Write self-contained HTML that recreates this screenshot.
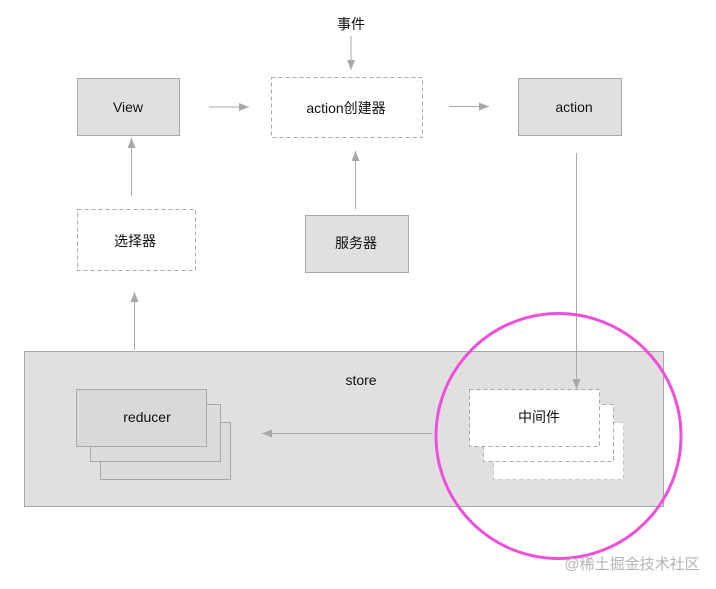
<!DOCTYPE html>
<html>
<head>
<meta charset="utf-8">
<style>
  html, body { margin: 0; padding: 0; background: #ffffff; }
  body { width: 716px; height: 589px; overflow: hidden; }
  svg { display: block; }
  text { font-family: "Liberation Sans", "Noto Sans CJK SC", sans-serif; font-size: 14px; fill: #111; }
</style>
</head>
<body>
<svg width="716" height="589" viewBox="0 0 716 589" xmlns="http://www.w3.org/2000/svg">
  <defs>
    <marker id="ah" markerWidth="10" markerHeight="8" refX="10" refY="4" orient="auto" markerUnits="userSpaceOnUse">
      <path d="M0,0 L10,4 L0,8 Z" fill="#a8a8a8"/>
    </marker>
  </defs>

  <!-- Store -->
  <rect x="24.5" y="351.5" width="639" height="155" fill="#e0e0e0" stroke="#a8a8a8" stroke-width="1"/>
  <text x="361" y="385" text-anchor="middle">store</text>

  <!-- Reducer stack -->
  <rect x="100.5" y="422.5" width="130" height="57" fill="#dcdcdc" stroke="#a8a8a8"/>
  <rect x="90.5" y="404.5" width="130" height="57" fill="#dcdcdc" stroke="#a8a8a8"/>
  <rect x="76.5" y="389.5" width="130" height="57" fill="#d9d9d9" stroke="#a8a8a8"/>
  <text x="147" y="422" text-anchor="middle">reducer</text>

  <!-- Middleware stack -->
  <rect x="493.5" y="422.5" width="130" height="57" fill="#ffffff" stroke="#c8c8c8" stroke-dasharray="4,3"/>
  <rect x="483.5" y="404.5" width="130" height="57" fill="#ffffff" stroke="#a8a8a8" stroke-dasharray="4,3"/>
  <rect x="469.5" y="389.5" width="130" height="57" fill="#ffffff" stroke="#a8a8a8" stroke-dasharray="4,3"/>
  <text x="539" y="422" text-anchor="middle">中间件</text>

  <!-- Top row boxes -->
  <rect x="77.5" y="78.5" width="102" height="57" fill="#e0e0e0" stroke="#a8a8a8"/>
  <text x="128" y="112" text-anchor="middle">View</text>

  <rect x="271.5" y="77.5" width="151" height="60" fill="#ffffff" stroke="#a8a8a8" stroke-dasharray="4,3"/>
  <text x="346" y="113" text-anchor="middle">action创建器</text>

  <rect x="518.5" y="78.5" width="103" height="57" fill="#e0e0e0" stroke="#a8a8a8"/>
  <text x="574" y="112" text-anchor="middle">action</text>

  <text x="351" y="29" text-anchor="middle">事件</text>

  <!-- Middle row -->
  <rect x="77.5" y="209.5" width="118" height="61" fill="#ffffff" stroke="#a8a8a8" stroke-dasharray="4,3"/>
  <text x="135" y="246" text-anchor="middle">选择器</text>

  <rect x="305.5" y="215.5" width="103" height="57" fill="#e0e0e0" stroke="#a8a8a8"/>
  <text x="356" y="248" text-anchor="middle">服务器</text>

  <!-- Arrows -->
  <g stroke="#a8a8a8" stroke-width="1" fill="none">
    <line x1="351" y1="36" x2="351" y2="70" marker-end="url(#ah)"/>
    <line x1="209" y1="107" x2="249" y2="107" marker-end="url(#ah)"/>
    <line x1="449" y1="106.5" x2="489" y2="106.5" marker-end="url(#ah)"/>
    <line x1="131.5" y1="196" x2="131.5" y2="138" marker-end="url(#ah)"/>
    <line x1="355.5" y1="209" x2="355.5" y2="151" marker-end="url(#ah)"/>
    <line x1="134.5" y1="350" x2="134.5" y2="292" marker-end="url(#ah)"/>
    <line x1="576.5" y1="153" x2="576.5" y2="389" marker-end="url(#ah)"/>
    <line x1="432" y1="433.5" x2="262" y2="433.5" marker-end="url(#ah)"/>
  </g>

  <!-- Highlight circle -->
  <circle cx="558.5" cy="436" r="122.5" fill="none" stroke="#ee50d8" stroke-width="3"/>

  <!-- Watermark -->
  <text x="632" y="569" text-anchor="middle" style="font-size:15px; fill:#b4b4b4;">@稀土掘金技术社区</text>
</svg>
</body>
</html>
